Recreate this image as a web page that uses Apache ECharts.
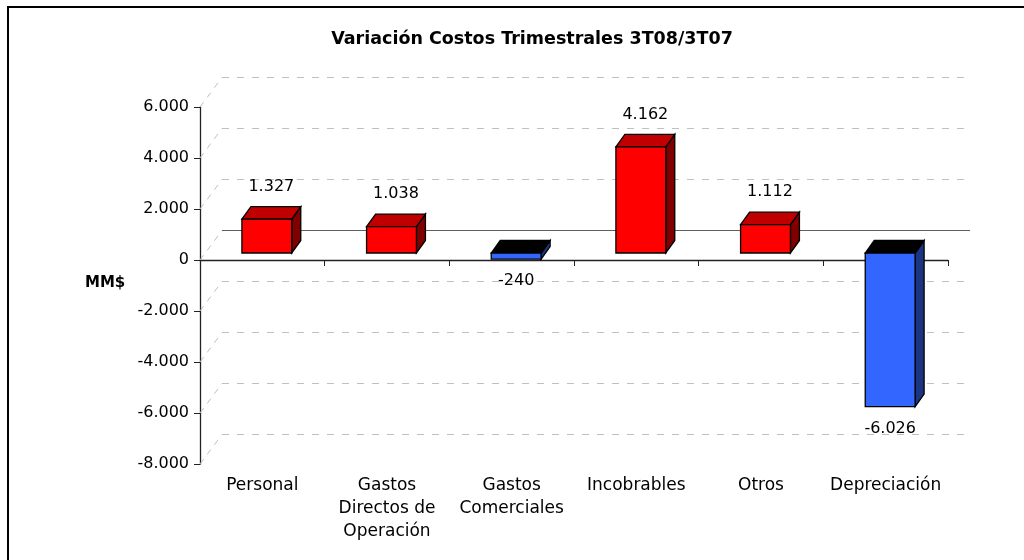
<!DOCTYPE html>
<html>
<head>
<meta charset="utf-8">
<script src="https://cdn.jsdelivr.net/npm/echarts@6/dist/echarts.min.js"></script>
<style>
  html, body { margin: 0; padding: 0; background: #fff; }
  #chart { width: 1024px; height: 560px; }
</style>
</head>
<body>
<div id="chart"></div>
<script>
const categories = ['Personal', 'Gastos\nDirectos de\nOperación', 'Gastos\nComerciales', 'Incobrables', 'Otros', 'Depreciación']
const values = [1327, 1038, -240, 4162, 1112, -6026]
const yTicks = [-8000, -6000, -4000, -2000, 0, 2000, 4000, 6000]

// pseudo 3D offsets (px)
const WALL_DX = 22, WALL_DY = -30
const FRONT_DX = 4.5, FRONT_DY = -7
const DEPTH_DX = 9, DEPTH_DY = -12.5
const FONT = 'DejaVu Sans'

function fmt(v) {
  const a = Math.abs(v)
  let s = a >= 1000 ? Math.floor(a / 1000) + '.' + String(a % 1000).padStart(3, '0') : String(a)
  return (v < 0 ? '-' : '') + s
}

function renderWall(params, api) {
  const cs = params.coordSys
  const y = api.coord([0, api.value(1)])[1]
  const yw = Math.round(y + WALL_DY) + 0.5
  const gx = cs.x, gw = cs.width
  const isZero = api.value(1) === 0
  return {
    type: 'group',
    children: [
      {
        type: 'line',
        shape: { x1: gx, y1: y, x2: gx + WALL_DX, y2: yw },
        style: { stroke: '#c0c0c0', lineWidth: 1, lineDash: [6, 6] }
      },
      {
        type: 'line',
        shape: { x1: gx + WALL_DX, y1: yw, x2: gx + gw + WALL_DX, y2: yw },
        style: isZero
          ? { stroke: '#606060', lineWidth: 1 }
          : { stroke: '#c0c0c0', lineWidth: 1, lineDash: [7, 8] }
      }
    ]
  }
}

function renderBar(params, api) {
  const i = api.value(0), v = api.value(1)
  const base = api.coord([i, 0])
  const end = api.coord([i, v])
  const w = api.size([1, 0])[0] * 0.4
  const x0 = base[0] - w / 2 + FRONT_DX, x1 = x0 + w
  const yb = base[1] + FRONT_DY, yv = end[1] + FRONT_DY
  const pos = v >= 0
  const yTop = pos ? yv : yb
  const yBot = pos ? yb : yv
  const cFront = pos ? '#ff0000' : '#3366ff'
  const cTop = pos ? '#c00000' : '#000000'
  const cSide = pos ? '#800000' : '#1c3582'
  const stroke = { stroke: '#000', lineWidth: 1.3 }
  const children = [
    {
      type: 'polygon',
      shape: { points: [[x1, yTop], [x1 + DEPTH_DX, yTop + DEPTH_DY], [x1 + DEPTH_DX, yBot + DEPTH_DY], [x1, yBot]] },
      style: Object.assign({ fill: cSide }, stroke)
    },
    {
      type: 'polygon',
      shape: { points: [[x0, yTop], [x1, yTop], [x1 + DEPTH_DX, yTop + DEPTH_DY], [x0 + DEPTH_DX, yTop + DEPTH_DY]] },
      style: Object.assign({ fill: cTop }, stroke)
    },
    {
      type: 'rect',
      shape: { x: x0, y: yTop, width: w, height: yBot - yTop },
      style: Object.assign({ fill: cFront }, stroke)
    },
    {
      type: 'text',
      x: pos ? x0 + w / 2 + DEPTH_DX / 2 : x0 + w / 2,
      y: pos ? yTop + DEPTH_DY - 20 : yBot + 22,
      style: {
        text: fmt(v), fill: '#000', fontSize: 16, fontFamily: FONT,
        align: 'center', verticalAlign: 'middle'
      }
    }
  ]
  return { type: 'group', children: children }
}

const chart = echarts.init(document.getElementById('chart'))
chart.setOption({
  backgroundColor: '#fff',
  animation: false,
  title: {
    text: 'Variación Costos Trimestrales 3T08/3T07',
    left: 527,
    textAlign: 'center',
    top: 25,
    textStyle: { fontFamily: FONT, fontWeight: 'bold', fontSize: 17.5, color: '#000' }
  },
  grid: { left: 200, right: 76, top: 107, bottom: 96 },
  xAxis: [
    {
      type: 'category',
      data: categories,
      axisLine: { onZero: true, lineStyle: { color: '#222', width: 1.3 } },
      axisTick: { show: true, length: 6, lineStyle: { color: '#222' } },
      axisLabel: { show: false },
      splitLine: { show: false }
    },
    {
      type: 'category',
      data: categories,
      position: 'bottom',
      axisLine: { show: false, onZero: false },
      axisTick: { show: false },
      axisLabel: { fontFamily: FONT, fontSize: 17, color: '#000', lineHeight: 23, margin: 10, interval: 0 },
      splitLine: { show: false }
    }
  ],
  yAxis: {
    type: 'value',
    min: -8000,
    max: 6000,
    interval: 2000,
    axisLine: { show: true, lineStyle: { color: '#222', width: 1.3 } },
    axisTick: { show: true, length: 6, lineStyle: { color: '#222' } },
    axisLabel: { fontFamily: FONT, fontSize: 16, color: '#000', margin: 11, formatter: fmt },
    splitLine: { show: false }
  },
  graphic: [
    {
      type: 'polyline',
      shape: { points: [[8, 560], [8, 7], [1024, 7]] },
      style: { stroke: '#000', lineWidth: 2, fill: null }
    },
    {
      type: 'text',
      left: 85,
      top: 276,
      style: { text: 'MM$', fontFamily: FONT, fontWeight: 'bold', fontSize: 15, fill: '#000' }
    }
  ],
  series: [
    {
      type: 'custom',
      name: 'wall',
      z: 1,
      silent: true,
      renderItem: renderWall,
      data: yTicks.map(v => [0, v])
    },
    {
      type: 'custom',
      name: 'Variación',
      z: 3,
      renderItem: renderBar,
      data: values.map((v, i) => [i, v])
    }
  ]
})
</script>
</body>
</html>
